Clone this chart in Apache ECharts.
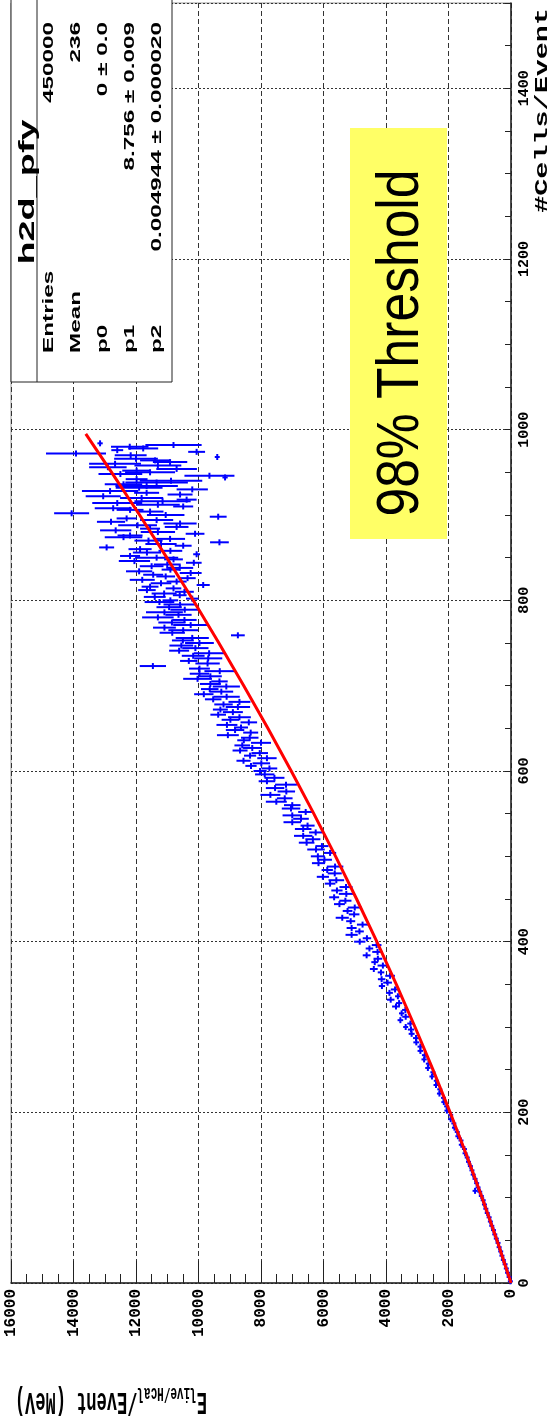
<!DOCTYPE html>
<html>
<head>
<meta charset="utf-8">
<script src="https://cdn.jsdelivr.net/npm/echarts@6/dist/echarts.min.js"></script>
<style>
html,body{margin:0;padding:0;background:#fff;}
#c{width:550px;height:1416px;}
</style>
</head>
<body>
<div id="c"></div>
<script>
// ---- profile points: cell count per event (bin centre), mean energy, error on mean ----
const cells = [
 2,7,12,17,22,27,32,37,42,47,52,57,62,67,72,77,82,87,92,97,
 102,107,108,112,117,122,127,132,137,142,147,152,157,162,167,172,177,182,187,192,
 197,202,207,212,217,222,227,232,237,242,247,252,257,262,267,272,277,282,287,292,297,
 300,304,308,312,316,320,324,328,332,336,340,344,348,352,356,360,364,368,372,376,
 380,384,388,392,396,400,404,408,412,416,420,424,428,432,436,440,444,448,452,456,
 460,464,468,472,476,480,484,488,492,496,500,504,508,512,516,520,524,528,532,536,
 540,544,548,552,556,560,564,568,572,576,580,584,588,592,596,
 600,603,606,609,612,615,618,621,624,627,630,633,636,639,642,645,648,651,654,657,
 660,663,666,669,672,675,678,681,684,687,690,693,696,699,702,705,708,711,714,717,
 720,723,726,729,732,735,738,741,744,747,750,753,756,759,762,765,768,771,774,777,
 780,783,786,789,792,795,798,
 800,802,804,806,808,810,812,814,816,818,820,822,824,826,828,830,832,834,836,838,
 840,842,844,846,848,850,852,854,856,858,860,862,864,866,868,870,872,874,876,878,
 880,882,884,886,888,890,892,894,896,898,900,902,904,906,908,910,912,914,916,918,
 920,922,924,926,928,930,932,934,936,938,940,942,944,946,948,950,952,954,956,958,
 960,962,964,966,968,970,972,974,976,978,980,982,984
];
const energy = [
 20,60,110,150,190,245,290,330,380,415,470,520,560,615,660,700,760,805,850,890,
 950,1000,1150,1055,1100,1150,1210,1250,1300,1360,1400,1470,1490,1590,1600,1700,1720,1810,1830,1930,
 1930,2050,2060,2150,2160,2290,2280,2400,2390,2530,2500,2660,2640,2780,2760,2900,2900,3030,3040,3180,3200,
 3370,3220,3540,3370,3500,3380,3680,3580,3850,3620,3890,3710,4130,3950,4140,3870,4160,4390,4100,4360,
 4260,4620,4270,4530,4300,4840,4610,5100,4850,5100,4750,5130,5400,5020,5230,5000,5490,5300,5660,5270,
 5570,5280,5790,5590,6020,5640,5880,5630,6160,5970,6180,5790,6240,6050,6540,6340,6650,6250,6650,6510,
 7000,6720,7000,6570,7040,7000,7510,7240,7700,7190,7550,7200,7810,7570,7880,
 8030,7730,8320,7990,8560,7810,8350,8040,8670,8280,8600,8000,8550,8360,9060,8330,8830,8640,9090,8390,
 8980,8690,9370,8900,9300,8740,9200,8690,9530,9100,9830,9270,9640,9110,9620,9330,10030,9620,9970,9320,
 9970,11460,9710,10310,9690,10170,9660,10620,10100,10550,9970,10500,10200,8740,10840,10490,11090,10250,10850,10450,
 11300,10640,11090,10440,10940,10590,11250,
 10900,10200,11400,10600,11100,10450,11650,10800,11550,9850,11200,10700,11800,10350,11050,11450,10250,11900,10900,10600,
 11500,11000,10150,12050,10800,11340,12190,10060,11650,10900,11870,12940,10490,11200,9330,11600,10910,12400,12190,10110,
 11300,12650,11550,10700,11950,10590,12800,11340,12300,9370,11050,14060,11550,12190,12730,10490,11300,12600,11150,10380,
 11820,13050,10590,11660,12830,10200,11900,11660,12400,11340,10880,11980,9150,9650,12500,11550,11980,10700,12900,11300,
 12670,10910,11390,12000,9400,12170,13920,10060,12600,11770,12200,10800,13150
];
const energyErr = [
 10,10,15,15,15,20,20,20,20,25,25,25,30,30,30,30,35,35,35,35,
 40,40,30,40,45,45,45,50,50,50,50,55,55,55,60,60,60,60,65,65,
 65,70,70,70,75,75,75,80,80,80,80,85,85,85,90,90,90,95,95,95,100,
 80,100,90,110,85,105,125,100,120,90,110,135,100,140,120,155,105,125,170,110,
 140,125,170,120,155,180,135,195,140,160,180,145,210,170,155,225,175,195,160,240,
 180,210,170,250,195,225,180,265,210,240,225,195,280,210,250,240,295,210,265,225,
 280,250,310,240,295,265,335,250,320,280,295,350,265,320,310,
 210,250,180,280,225,310,195,265,240,295,250,320,210,280,350,240,295,225,335,265,
 280,365,250,320,240,390,295,350,265,420,310,380,280,435,335,265,460,365,310,490,
 335,420,390,280,450,365,490,320,420,380,460,350,530,220,405,475,365,560,435,390,
 505,420,590,460,405,530,475,
 250,200,350,220,400,300,280,250,270,210,330,320,400,260,300,320,350,420,280,430,
 380,430,250,500,300,690,320,110,450,380,370,240,270,500,300,450,480,600,400,300,
 550,500,320,380,620,530,450,530,320,270,600,560,430,430,590,320,700,800,900,320,
 690,560,400,400,900,500,750,1000,600,1000,1000,350,85,800,700,800,460,650,600,750,
 830,550,480,700,50,510,960,270,190,480,600,900,85
];
// ---- fitted curve (red) ----
const fitCells  = [0,50,100,150,200,250,300,350,400,450,500,550,600,650,700,750,800,850,900,950,995];
const fitEnergy = [0,450,925,1425,1949,2498,3072,3670,4293,4941,5614,6311,7033,7780,8552,9348,10169,11015,11885,12780,13607];
// ---- axis ticks ----
const energyTicks = [0,2000,4000,6000,8000,10000,12000,14000,16000];
const cellTicks = [0,200,400,600,800,1000,1200,1400];
const cellsMax = 1500;
// ---- stats box / texts ----
const statsTitle = 'h2d_pfy';
const statsNames = ['Entries','Mean','p0','p1','p2'];
const statsValues = ['450000','236','0 \u00b1 0.0','8.756 \u00b1 0.009','0.004944 \u00b1 0.000020'];
const noteText = '98% Threshold';
const cellsTitle = '#Cells/Event';

const MONO = '"Liberation Mono", "DejaVu Sans Mono", monospace';
const SANS = '"Liberation Sans", Arial, sans-serif';

const points = cells.map((n, i) => [energy[i], n, energyErr[i]]);
const fit = fitCells.map((n, i) => [fitEnergy[i], n]);

const chart = echarts.init(document.getElementById('c'), null, {renderer: 'canvas'});

const rowX = [49, 76, 103, 130, 157];
const statsTexts = [];
statsNames.forEach((name, i) => {
  statsTexts.push({type: 'text', z: 102, x: rowX[i], y: 353, rotation: Math.PI / 2, scaleX: 1.62,
    style: {text: name, font: 'bold 15px ' + SANS, fill: '#000', align: 'left', textAlign: 'left', verticalAlign: 'middle', textVerticalAlign: 'middle'}});
  statsTexts.push({type: 'text', z: 102, x: rowX[i], y: 22, rotation: Math.PI / 2, scaleX: 1.62,
    style: {text: statsValues[i], font: 'bold 15px ' + SANS, fill: '#000', align: 'right', textAlign: 'right', verticalAlign: 'middle', textVerticalAlign: 'middle'}});
});

const option = {
  animation: false,
  backgroundColor: '#ffffff',
  grid: {left: 11, right: 39, top: 0, bottom: 133, show: true, borderColor: '#999', borderWidth: 1, backgroundColor: '#fff'},
  xAxis: {
    type: 'value', min: energyTicks[0], max: energyTicks[energyTicks.length - 1], interval: 2000,
    inverse: true, position: 'bottom',
    axisLine: {show: true, onZero: false, lineStyle: {color: '#222', width: 1.5}},
    axisTick: {show: true, inside: true, length: 22, lineStyle: {color: '#222', width: 1}},
    minorTick: {show: true, splitNumber: 4, length: 9, lineStyle: {color: '#222', width: 1}},
    splitLine: {show: true, lineStyle: {color: '#333', width: 1, type: [5, 3]}},
    axisLabel: {rotate: 90, margin: 6, fontFamily: MONO, fontWeight: 'bold', fontSize: 16, color: '#000',
      formatter: v => energyTicks.includes(v) ? String(v) : ''}
  },
  yAxis: [
    {
      type: 'value', min: cellTicks[0], max: cellsMax, interval: 200, position: 'right',
      axisLine: {show: true, onZero: false, lineStyle: {color: '#222', width: 1.5}},
      axisTick: {show: false},
      splitLine: {show: true, lineStyle: {color: '#333', width: 1, type: [2, 2]}},
      axisLabel: {rotate: 90, margin: 6, fontFamily: MONO, fontWeight: 'bold', fontSize: 15, color: '#000',
        formatter: v => cellTicks.includes(v) ? String(v) : ''}
    },
    {
      type: 'value', min: cellTicks[0], max: cellsMax, interval: 50, position: 'right',
      axisLine: {show: false}, axisLabel: {show: false}, splitLine: {show: false},
      axisTick: {show: true, inside: true, length: 6, lineStyle: {color: '#222', width: 1}}
    }
  ],
  series: [
    {
      type: 'custom', xAxisIndex: 0, yAxisIndex: 0, z: 2,
      dimensions: ['energy', 'cells', 'err'],
      encode: {x: 0, y: 1},
      data: points,
      renderItem: function (params, api) {
        const e = api.value(0), n = api.value(1), er = api.value(2);
        const c = api.coord([e, n]);
        const a = api.coord([e - er, n]);
        const b = api.coord([e + er, n]);
        const x1 = Math.min(a[0], b[0], c[0] - 2.5);
        const x2 = Math.max(a[0], b[0], c[0] + 2.5);
        return {
          type: 'group',
          children: [
            {type: 'line', shape: {x1: x1, y1: c[1], x2: x2, y2: c[1]}, style: {stroke: '#0000ff', lineWidth: 2}},
            {type: 'line', shape: {x1: c[0], y1: c[1] - 3, x2: c[0], y2: c[1] + 3}, style: {stroke: '#0000ff', lineWidth: 2}}
          ]
        };
      }
    },
    {
      type: 'line', xAxisIndex: 0, yAxisIndex: 0, z: 3,
      data: fit, showSymbol: false, symbol: 'none', smooth: false,
      lineStyle: {color: '#ff0000', width: 3}
    }
  ],
  graphic: [
    {type: 'rect', z: 100, shape: {x: 11, y: -2, width: 161, height: 384}, style: {fill: '#fff', stroke: '#222', lineWidth: 1}},
    {type: 'line', z: 101, shape: {x1: 37, y1: -2, x2: 37, y2: 382}, style: {stroke: '#222', lineWidth: 1}},
    {type: 'text', z: 102, x: 28, y: 192, rotation: Math.PI / 2, scaleX: 1.72,
      style: {text: statsTitle, font: 'bold 22px ' + SANS, fill: '#000', align: 'center', textAlign: 'center', verticalAlign: 'middle', textVerticalAlign: 'middle'}},
    ...statsTexts,
    {type: 'rect', z: 100, shape: {x: 350, y: 128, width: 97, height: 411}, style: {fill: '#ffff66'}},
    {type: 'text', z: 101, x: 401, y: 343, rotation: Math.PI / 2, scaleX: 0.86,
      style: {text: noteText, font: '60px ' + SANS, fill: '#000', align: 'center', textAlign: 'center', verticalAlign: 'middle', textVerticalAlign: 'middle'}},
    {type: 'text', z: 101, x: 542, y: 8, rotation: Math.PI / 2, scaleX: 1.58,
      style: {text: cellsTitle, font: 'bold 18px ' + MONO, fill: '#000', align: 'right', textAlign: 'right', verticalAlign: 'middle', textVerticalAlign: 'middle'}},
    {type: 'text', z: 101, x: 207, y: 1401, rotation: Math.PI, scaleY: 1.8,
      style: {
        text: '{m|E}{s|live/Hcal}{m|/Event (MeV)}',
        fill: '#000', align: 'left', textAlign: 'left', verticalAlign: 'middle', textVerticalAlign: 'middle',
        rich: {
          m: {fontFamily: MONO, fontWeight: 'bold', fontSize: 17, lineHeight: 20, fill: '#000', color: '#000'},
          s: {fontFamily: MONO, fontWeight: 'bold', fontSize: 11, lineHeight: 8, verticalAlign: 'bottom', fill: '#000', color: '#000'}
        }
      }}
  ]
};
chart.setOption(option);
</script>
</body>
</html>
